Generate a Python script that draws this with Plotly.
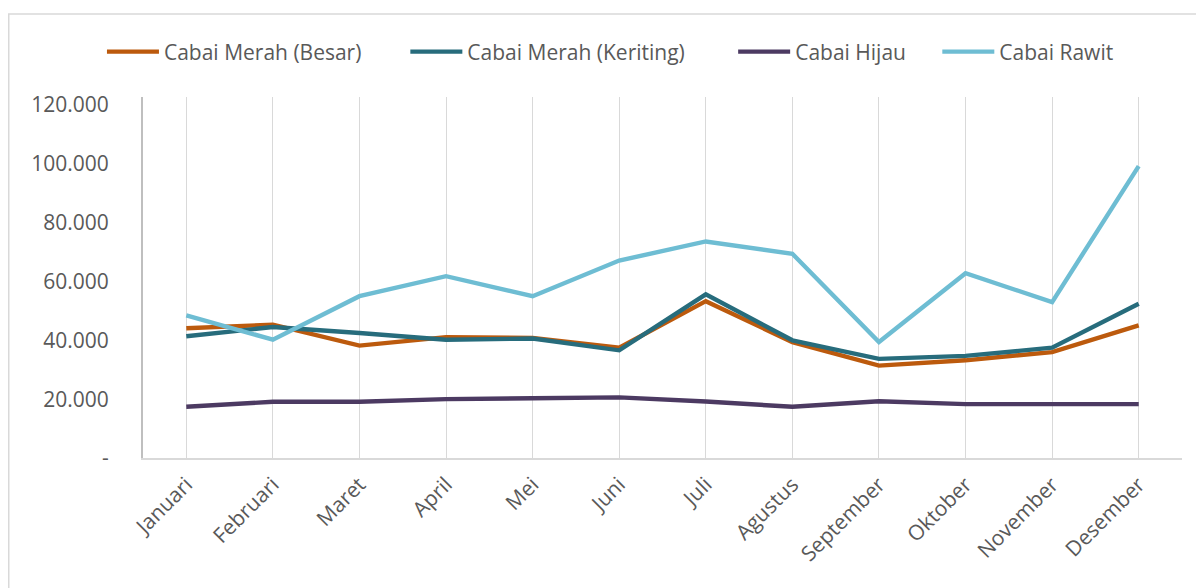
import plotly.graph_objects as go

months = ["Januari", "Februari", "Maret", "April", "Mei", "Juni", "Juli",
          "Agustus", "September", "Oktober", "November", "Desember"]

merah_besar = [44100, 45300, 38200, 41100, 40800, 37500, 53300, 39400, 31400, 33200, 36000, 45100]
merah_keriting = [41400, 44500, 42500, 40200, 40600, 36600, 55600, 40000, 33700, 34700, 37500, 52400]
hijau = [17400, 19100, 19100, 20000, 20300, 20600, 19200, 17400, 19300, 18300, 18300, 18300]
rawit = [48500, 40200, 55000, 61800, 55000, 67100, 73600, 69400, 39400, 62800, 53000, 99200]

series_names = ["Cabai Merah (Besar)", "Cabai Merah (Keriting)", "Cabai Hijau", "Cabai Rawit"]
series_colors = ["#BC5A0D", "#276C7C", "#4C3A62", "#6EBDD3"]

y_tickvals = [0, 20000, 40000, 60000, 80000, 100000, 120000]
y_ticktext = ["-", "20.000", "40.000", "60.000", "80.000", "100.000", "120.000"]

FONT = "Open Sans"
TXT = "#595959"

legend_ids = ["legend", "legend2", "legend3", "legend4"]
legend_x = [-0.0395, 0.2525, 0.568, 0.7645]

fig = go.Figure()
for name, vals, col, lid in zip(series_names, [merah_besar, merah_keriting, hijau, rawit],
                                series_colors, legend_ids):
    fig.add_trace(go.Scatter(x=months, y=vals, name=name, mode="lines",
                             line=dict(color=col, width=4.4), legend=lid))

legend_common = dict(orientation="h", xanchor="left", y=1.1247, yanchor="middle",
                     font=dict(size=21, color=TXT, family=FONT), bgcolor="rgba(0,0,0,0)",
                     borderwidth=0, itemwidth=52)
legend_layout = {}
for lid, lx in zip(legend_ids, legend_x):
    legend_layout[lid] = dict(legend_common, x=lx)

fig.update_layout(
    width=1204, height=588,
    paper_bgcolor="white", plot_bgcolor="white",
    margin=dict(l=135, r=30, t=89, b=138, autoexpand=False),
    font=dict(family=FONT, color=TXT, size=21),
    showlegend=True,
    shapes=[dict(type="rect", xref="paper", yref="paper",
                 x0=-0.1292, x1=1.03, y0=-0.5, y1=1.2299,
                 line=dict(color="#D9D9D9", width=1.5), fillcolor="rgba(0,0,0,0)", layer="below")],
    **legend_layout,
)
fig.update_xaxes(
    type="category", range=[-0.5, 11.5],
    showgrid=True, gridcolor="#D9D9D9", gridwidth=1,
    showline=True, linecolor="#D9D9D9", linewidth=2,
    tickangle=-45, tickfont=dict(size=21, color=TXT), ticks="", ticklabelstandoff=4,
    zeroline=False,
)
fig.update_yaxes(
    range=[0, 122700],
    tickvals=y_tickvals, ticktext=y_ticktext,
    showgrid=False, zeroline=False,
    showline=True, linecolor="#BFBFBF", linewidth=2,
    tickfont=dict(size=21, color=TXT), ticks="", ticklabelstandoff=28,
)

fig.write_html("out.html")
